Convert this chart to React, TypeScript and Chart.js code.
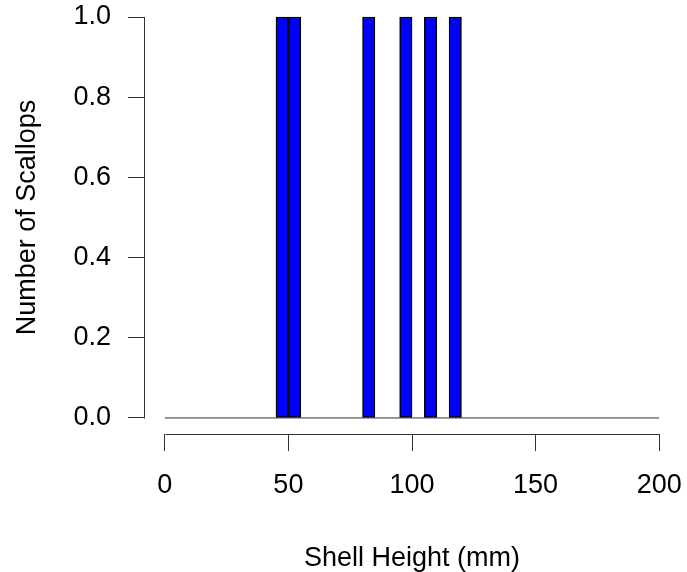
import React, { useEffect, useRef } from "react";
import { Chart, registerables } from "chart.js";

Chart.register(...registerables);

// Histogram bins (lower edges, mm) and counts
const binLower = [
  0, 5, 10, 15, 20, 25, 30, 35, 40, 45,
  50, 55, 60, 65, 70, 75, 80, 85, 90, 95,
  100, 105, 110, 115, 120, 125, 130, 135, 140, 145,
  150, 155, 160, 165, 170, 175, 180, 185, 190, 195,
];
const counts = [
  0, 0, 0, 0, 0, 0, 0, 0, 0, 1,
  1, 0, 0, 0, 0, 0, 1, 0, 0, 1,
  0, 1, 0, 1, 0, 0, 0, 0, 0, 0,
  0, 0, 0, 0, 0, 0, 0, 0, 0, 0,
];
const binWidth = 5;
const xTicks = [0, 50, 100, 150, 200];
const yTicks = [0, 0.2, 0.4, 0.6, 0.8, 1.0];
const xTitle = "Shell Height (mm)";
const yTitle = "Number of Scallops";

const FONT_FAMILY = '"Liberation Sans", Arial, Helvetica, sans-serif';
const AXIS_COLOR = "#333333";

const rAxesPlugin = {
  id: "rAxes",
  afterDraw(chart: any) {
    const { ctx, chartArea, scales } = chart;
    const xs = scales.x;
    const ys = scales.y;
    ctx.save();
    ctx.strokeStyle = AXIS_COLOR;
    ctx.lineWidth = 1;
    ctx.beginPath();
    const yb = Math.round(chartArea.bottom) + 0.5;
    ctx.moveTo(Math.round(xs.getPixelForValue(xTicks[0])) + 0.5, yb);
    ctx.lineTo(Math.round(xs.getPixelForValue(xTicks[xTicks.length - 1])) + 0.5, yb);
    const xl = Math.round(chartArea.left) - 0.5;
    ctx.moveTo(xl, Math.round(ys.getPixelForValue(yTicks[0])) + 0.5);
    ctx.lineTo(xl, Math.round(ys.getPixelForValue(yTicks[yTicks.length - 1])) + 0.5);
    ctx.stroke();
    ctx.restore();
  },
};

export default function App() {
  const ref = useRef<HTMLCanvasElement>(null);

  useEffect(() => {
    if (!ref.current) return;
    const barData = binLower.map((lo, i) => ({ x: lo + binWidth / 2, y: counts[i] }));
    const baseData = [
      { x: binLower[0], y: 0 },
      { x: binLower[binLower.length - 1] + binWidth, y: 0 },
    ];
    const font = { family: FONT_FAMILY, size: 27 };
    const chart = new Chart(ref.current, {
      type: "bar",
      data: {
        datasets: [
          {
            type: "line",
            data: baseData,
            borderColor: AXIS_COLOR,
            borderWidth: 1,
            pointRadius: 0,
            order: 2,
          } as any,
          {
            type: "bar",
            data: barData,
            backgroundColor: "#0000FF",
            borderColor: "#000000",
            borderWidth: 1.5,
            borderSkipped: false,
            barPercentage: 1,
            categoryPercentage: 1,
            order: 1,
          } as any,
        ],
      },
      options: {
        responsive: false,
        animation: false,
        layout: { padding: { top: 1, right: 8, left: 0, bottom: 0 } },
        plugins: {
          legend: { display: false },
          tooltip: { enabled: false },
        },
        scales: {
          x: {
            type: "linear",
            min: -8,
            max: 208,
            offset: false,
            afterBuildTicks: (s: any) => {
              s.ticks = xTicks.map((v) => ({ value: v }));
            },
            afterFit: (s: any) => {
              s.height = 138;
              s.paddingLeft = 0;
              s.paddingRight = 0;
            },
            ticks: {
              font,
              color: "#000",
              padding: 18,
              maxRotation: 0,
              autoSkip: false,
              callback: (v: any) => String(v),
            },
            grid: {
              drawOnChartArea: false,
              drawTicks: true,
              tickLength: 17,
              color: AXIS_COLOR,
              offset: false,
            },
            border: { display: false },
            title: {
              display: true,
              text: xTitle,
              font: { family: FONT_FAMILY, size: 27, lineHeight: 1 },
              color: "#000",
              padding: { top: 0, bottom: 0 },
            },
          },
          y: {
            type: "linear",
            min: -0.04,
            max: 1.04,
            afterBuildTicks: (s: any) => {
              s.ticks = yTicks.map((v) => ({ value: v }));
            },
            afterFit: (s: any) => {
              s.width = 145;
              s.paddingTop = 0;
              s.paddingBottom = 0;
            },
            ticks: {
              font,
              color: "#000",
              padding: 17,
              callback: (v: any) => Number(v).toFixed(1),
            },
            grid: {
              drawOnChartArea: false,
              drawTicks: true,
              tickLength: 17,
              color: AXIS_COLOR,
            },
            border: { display: false },
            title: {
              display: true,
              text: yTitle,
              font: { family: FONT_FAMILY, size: 27, lineHeight: 1 },
              color: "#000",
              padding: { top: 14, bottom: 0 },
            },
          },
        },
      },
      plugins: [rAxesPlugin],
    } as any);
    return () => chart.destroy();
  }, []);

  return (
    <canvas
      ref={ref}
      width={687}
      height={572}
      style={{ position: "absolute", left: 0, top: 0, display: "block", background: "#fff" }}
    />
  );
}
